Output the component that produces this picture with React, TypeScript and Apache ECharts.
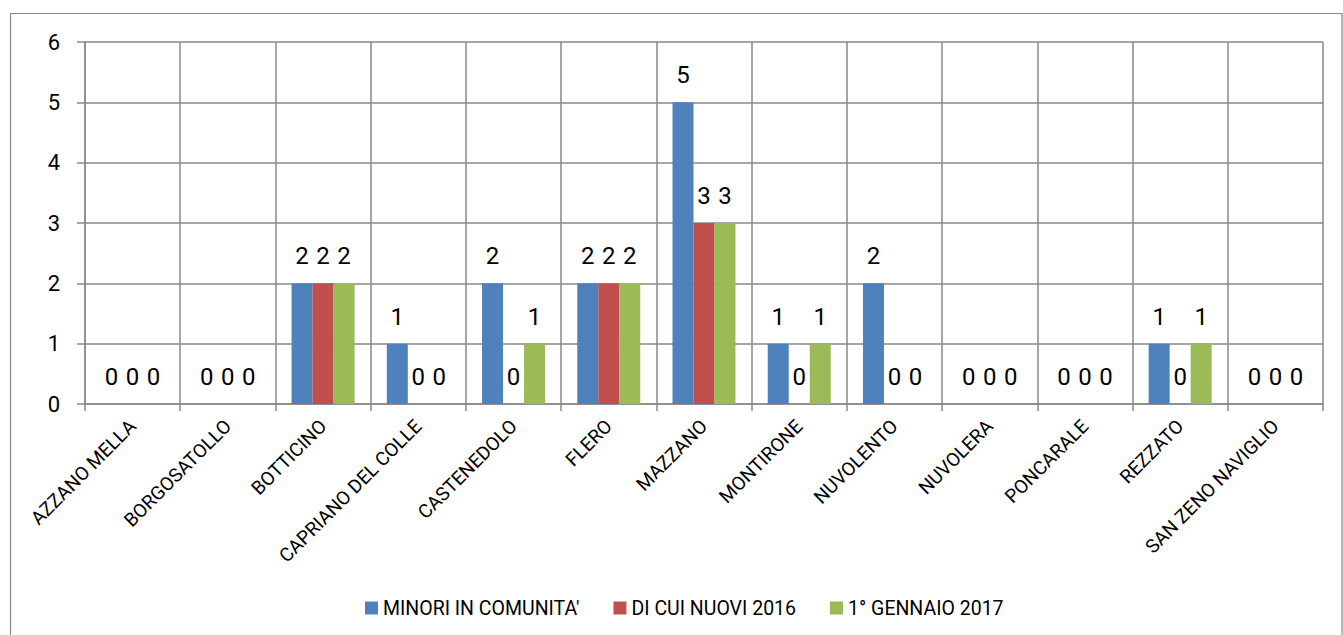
import React, { useEffect, useRef } from "react";
import * as echarts from "echarts";

const categories = [
  "AZZANO MELLA",
  "BORGOSATOLLO",
  "BOTTICINO",
  "CAPRIANO DEL COLLE",
  "CASTENEDOLO",
  "FLERO",
  "MAZZANO",
  "MONTIRONE",
  "NUVOLENTO",
  "NUVOLERA",
  "PONCARALE",
  "REZZATO",
  "SAN ZENO NAVIGLIO",
];
const minoriInComunita = [0, 0, 2, 1, 2, 2, 5, 1, 2, 0, 0, 1, 0];
const diCuiNuovi2016 = [0, 0, 2, 0, 0, 2, 3, 0, 0, 0, 0, 0, 0];
const gennaio2017 = [0, 0, 2, 0, 1, 2, 3, 1, 0, 0, 0, 1, 0];
const seriesNames = ["MINORI IN COMUNITA'", "DI CUI NUOVI 2016", "1° GENNAIO 2017"];
const seriesColors = ["#4F81BD", "#C0504D", "#9BBB59"];
const yTicks = [0, 1, 2, 3, 4, 5, 6];

const FONT = "Roboto, 'Noto Sans', sans-serif";
const GRID = "#898989";

export default function App() {
  const ref = useRef<HTMLDivElement>(null);
  useEffect(() => {
    if (!ref.current) return;
    const chart = echarts.init(ref.current, undefined, { renderer: "svg" });
    const data = [minoriInComunita, diCuiNuovi2016, gennaio2017];
    chart.setOption({
      animation: false,
      backgroundColor: "#ffffff",
      textStyle: { fontFamily: FONT },
      graphic: [
        {
          type: "rect",
          shape: { x: 10.5, y: 13.5, width: 1331.5, height: 640 },
          style: { fill: "none", stroke: GRID, lineWidth: 1.2 },
          silent: true,
        },
      ],
      grid: { left: 85, right: 20, top: 42, bottom: 231, containLabel: false },
      legend: {
        top: 593,
        left: 360,
        itemWidth: 13,
        itemHeight: 13,
        itemGap: 34,
        icon: "rect",
        textStyle: { fontFamily: FONT, fontSize: 19.5, color: "#000" },
        data: seriesNames,
      },
      xAxis: {
        type: "category",
        data: categories,
        boundaryGap: true,
        axisLine: { show: true, lineStyle: { color: GRID, width: 1.5 } },
        axisTick: { show: true, length: 7, lineStyle: { color: GRID, width: 1.5 } },
        splitLine: { show: true, lineStyle: { color: GRID, width: 1.5 } },
        axisLabel: {
          rotate: 45,
          interval: 0,
          fontSize: 19,
          color: "#000",
          fontFamily: FONT,
          margin: 19,
        },
      },
      yAxis: {
        type: "value",
        min: yTicks[0],
        max: yTicks[yTicks.length - 1],
        interval: 1,
        axisLine: { show: true, lineStyle: { color: GRID, width: 1.5 } },
        axisTick: { show: true, length: 8, lineStyle: { color: GRID, width: 1.5 } },
        splitLine: { show: true, lineStyle: { color: GRID, width: 1.5 } },
        axisLabel: { fontSize: 22, color: "#000", fontFamily: FONT, margin: 25 },
      },
      series: seriesNames.map((name, i) => ({
        name,
        type: "bar",
        data: data[i],
        barWidth: 21,
        barGap: "0%",
        itemStyle: { color: seriesColors[i] },
        label: {
          show: true,
          position: "top",
          distance: 15,
          fontSize: 24,
          color: "#000",
          fontFamily: FONT,
        },
      })),
    });
    return () => chart.dispose();
  }, []);
  return (
    <div
      ref={ref}
      style={{ position: "fixed", left: 0, top: 0, width: 1343, height: 635 }}
    />
  );
}
